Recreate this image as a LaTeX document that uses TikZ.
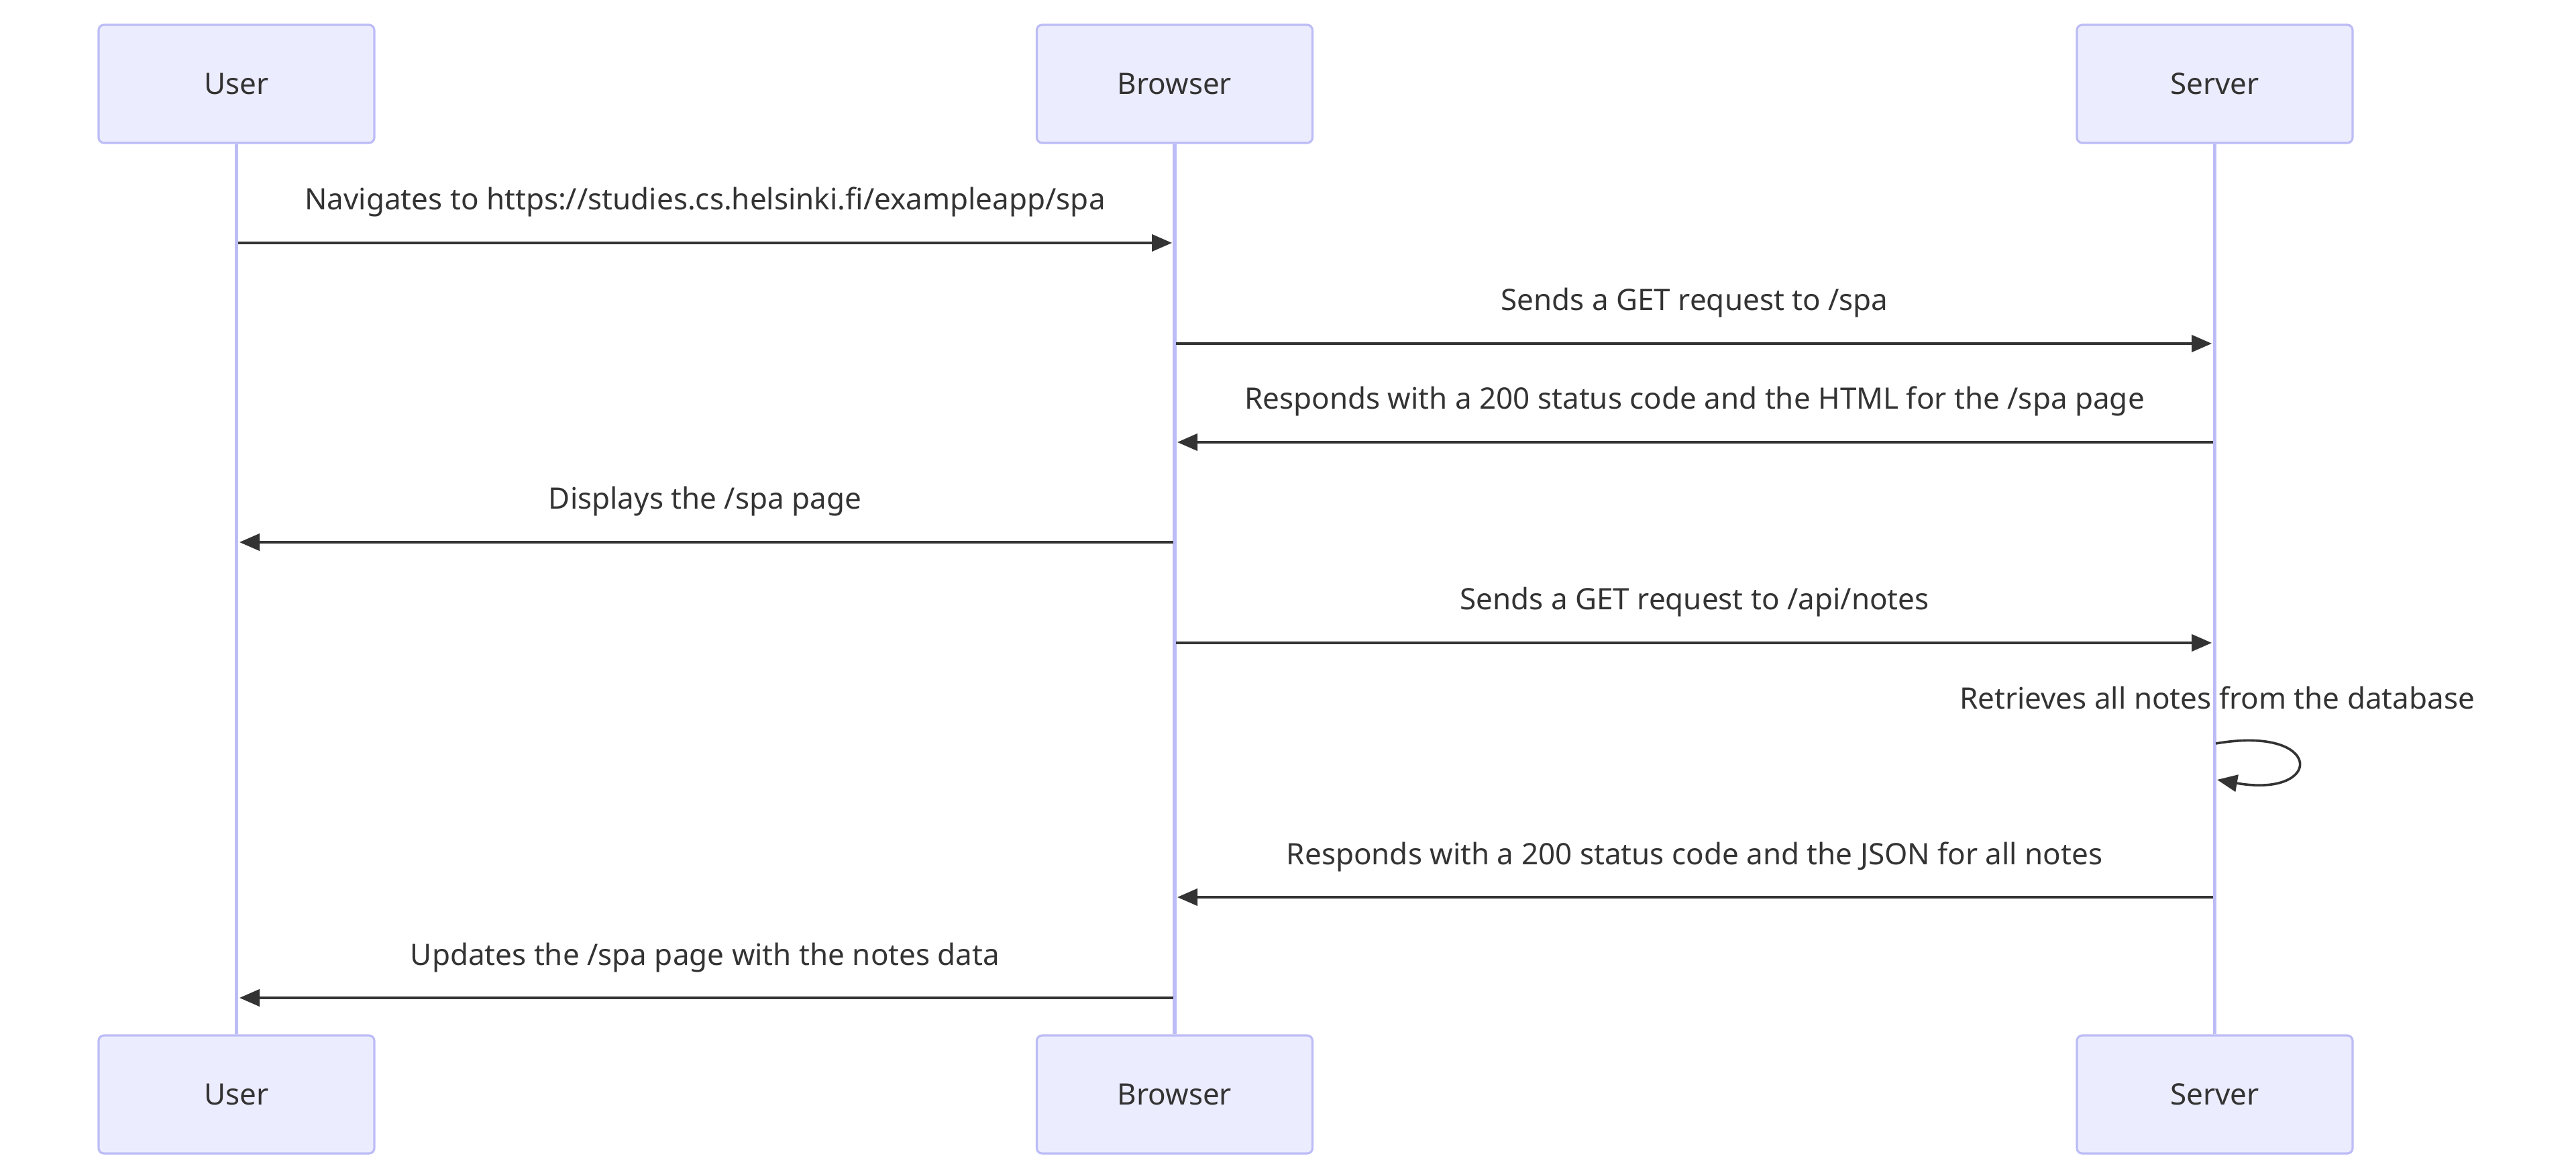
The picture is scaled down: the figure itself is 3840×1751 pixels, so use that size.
\documentclass[tikz,border=0pt]{standalone}
\usepackage{fontspec}
\setmainfont{Noto Sans}
\usetikzlibrary{arrows.meta}
\definecolor{actfill}{HTML}{ECECFF}
\definecolor{actline}{HTML}{BCBCF6}
\definecolor{txt}{HTML}{333333}
\begin{document}
\begin{tikzpicture}[x=0.25pt,y=-0.25pt, font=\fontsize{11pt}{13pt}\selectfont]
\tikzset{
  actor/.style={draw=actline, fill=actfill, line width=0.8pt, rounded corners=2pt,
    minimum width=102.75pt, minimum height=44pt, inner sep=0, text=txt,
    text height=7.9pt, text depth=0pt},
  lifeline/.style={draw=actline, line width=1.3pt},
  msg/.style={draw=txt, line width=0.9pt, -{Triangle[length=7.5pt,width=6.3pt]}},
  lbl/.style={inner sep=0, anchor=base, text=txt}
}
\useasboundingbox (0,0) rectangle (3840,1751);
% actors
\node[actor] (uT) at (352.5,125) {User};
\node[actor] (bT) at (1751,125) {Browser};
\node[actor] (sT) at (3301.5,125) {Server};
\node[actor] (uB) at (352.5,1631) {User};
\node[actor] (bB) at (1751,1631) {Browser};
\node[actor] (sB) at (3301.5,1631) {Server};
% lifelines
\draw[lifeline] (uT.south) -- (uB.north);
\draw[lifeline] (bT.south) -- (bB.north);
\draw[lifeline] (sT.south) -- (sB.north);
% message anchors
\coordinate (u1) at (355,362);   \coordinate (b1) at (1747,362);
\coordinate (b2) at (1753,512);  \coordinate (s2) at (3297,512);
\coordinate (s3) at (3299,659);  \coordinate (b3) at (1755,659);
\coordinate (b4) at (1749,808);  \coordinate (u4) at (357,808);
\coordinate (b5) at (1753,958);  \coordinate (s5) at (3297,958);
\coordinate (sl1) at (3303,1108); \coordinate (sl2) at (3305,1162);
\coordinate (s7) at (3299,1337); \coordinate (b7) at (1755,1337);
\coordinate (b8) at (1749,1487); \coordinate (u8) at (357,1487);
% messages
\draw[msg] (u1) -- (b1);
\node[lbl] (t1) at (1051,313) {Navigates to https://studies.cs.helsinki.fi/exampleapp/spa};
\draw[msg] (b2) -- (s2);
\node[lbl] (t2) at (2526,463) {Sends a GET request to /spa};
\draw[msg] (s3) -- (b3);
\node[lbl] (t3) at (2526,610) {Responds with a 200 status code and the HTML for the /spa page};
\draw[msg] (b4) -- (u4);
\node[lbl] (t4) at (1051,759) {Displays the /spa page};
\draw[msg] (b5) -- (s5);
\node[lbl] (t5) at (2526,909) {Sends a GET request to /api/notes};
\draw[msg] (sl1) .. controls (3465,1080) and (3465,1190) .. (sl2);
\node[lbl] (t6) at (3305,1057) {Retrieves all notes from the database};
\draw[msg] (s7) -- (b7);
\node[lbl] (t7) at (2526,1288) {Responds with a 200 status code and the JSON for all notes};
\draw[msg] (b8) -- (u8);
\node[lbl] (t8) at (1051,1438) {Updates the /spa page with the notes data};
\end{tikzpicture}
\end{document}
